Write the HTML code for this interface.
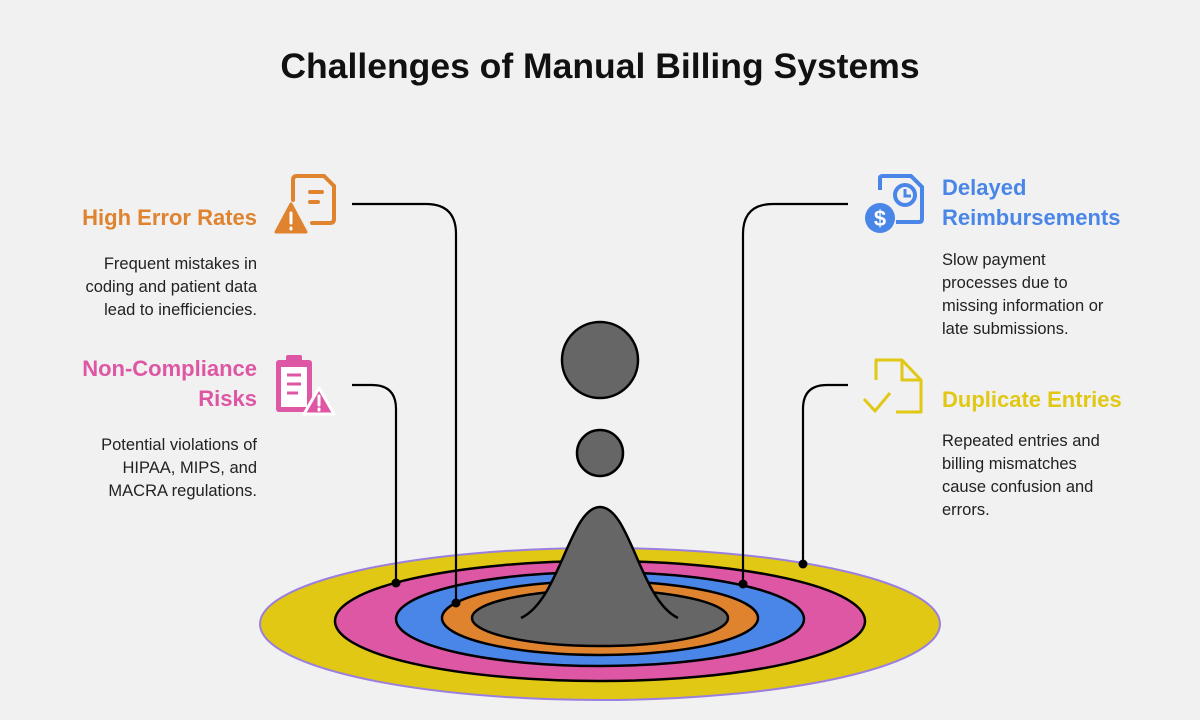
<!DOCTYPE html>
<html><head><meta charset="utf-8"><style>
body{margin:0;background:#f1f1f1;font-family:"Liberation Sans",sans-serif;}
.w{position:relative;width:1200px;height:720px;overflow:hidden}
.t{position:absolute;left:0;width:1200px;top:46px;text-align:center;font-size:35.5px;font-weight:bold;color:#111}
.h{position:absolute;font-size:22px;font-weight:bold;line-height:30px}
.p{position:absolute;font-size:16.5px;line-height:23px;color:#222}
.r{text-align:right}
</style></head><body><div class="w">
<div class="t">Challenges of Manual Billing Systems</div>
<svg width="1200" height="720" style="position:absolute;left:0;top:0">
<ellipse cx="600" cy="624" rx="340" ry="76" fill="#e0c814" stroke="#9b7fe0" stroke-width="2"/>
<ellipse cx="600" cy="621" rx="265" ry="60" fill="#de57a4" stroke="#000" stroke-width="2.5"/>
<ellipse cx="600" cy="619" rx="204" ry="47" fill="#4a86e8" stroke="#000" stroke-width="2.5"/>
<ellipse cx="600" cy="618" rx="158" ry="37" fill="#e0832f" stroke="#000" stroke-width="2.5"/>
<ellipse cx="600" cy="618" rx="128" ry="28" fill="#666" stroke="#000" stroke-width="2.5"/>
<path d="M521 618 C560 600 570 507 600 507 C630 507 640 600 678 618" fill="#666" stroke="#000" stroke-width="2.5"/>
<circle cx="600" cy="360" r="38" fill="#666" stroke="#000" stroke-width="2.5"/>
<circle cx="600" cy="453" r="23" fill="#666" stroke="#000" stroke-width="2.5"/>
<g fill="none" stroke="#000" stroke-width="2.2">
<path d="M352 204 H426 Q456 204 456 234 V603"/>
<path d="M352 385 H372 Q396 385 396 409 V583"/>
<path d="M848 204 H773 Q743 204 743 234 V584"/>
<path d="M848 385 H827 Q803 385 803 409 V564"/>
</g>
<g fill="#000"><circle cx="456" cy="603" r="4.5"/><circle cx="396" cy="583" r="4.5"/><circle cx="743" cy="584" r="4.5"/><circle cx="803" cy="564" r="4.5"/></g>
<g stroke="#e0832f" stroke-width="4" fill="none" stroke-linecap="round">
<path d="M293 200 V180 Q293 176 297 176 H324 L334 186 V219 Q334 223 330 223 H312"/>
<path d="M310 192 H322 M310 202 H318"/>
</g>
<path d="M291 204 L306 232 H276 Z" fill="#e0832f" stroke="#e0832f" stroke-width="3" stroke-linejoin="round"/>
<path d="M291 213 V223 M291 228 V229" stroke="#fff" stroke-width="3" stroke-linecap="round"/>
<rect x="276" y="360" width="36" height="52" rx="3" fill="#de57a4"/>
<rect x="286" y="355" width="16" height="8" rx="2" fill="#de57a4"/>
<rect x="281" y="367" width="26" height="40" fill="#fff"/>
<path d="M287 375 H301 M287 384 H301 M287 393 H298" stroke="#de57a4" stroke-width="3"/>
<path d="M319 388 L334 414 H304 Z" fill="#de57a4" stroke="#fff" stroke-width="3" stroke-linejoin="round"/>
<path d="M319 396 V405 M319 409 V410" stroke="#fff" stroke-width="3" stroke-linecap="round"/>
<g stroke="#4a86e8" stroke-width="4" fill="none">
<path d="M880 190 V178 Q880 176 883 176 H911 L922 187 V219 Q922 222 919 222 H896"/>
<circle cx="905" cy="195" r="10"/><path d="M905 189 V196 H911" stroke-width="3"/>
</g>
<circle cx="880" cy="218" r="15" fill="#4a86e8"/>
<text x="880" y="226" font-size="22" font-weight="bold" fill="#fff" text-anchor="middle">$</text>
<g stroke="#e0c814" stroke-width="3" fill="none" stroke-linejoin="round">
<path d="M876 380 V360 H902 L921 380 V412 H896"/><path d="M902 360 V380 H921"/>
<path d="M864 399 L875 411 L890 393"/>
</g>
</svg>
<div class="h r" style="right:943px;top:203px;color:#e0832f">High Error Rates</div>
<div class="p r" style="right:943px;top:253px">Frequent mistakes in<br>coding and patient data<br>lead to inefficiencies.</div>
<div class="h r" style="right:943px;top:354px;color:#de57a4">Non-Compliance<br>Risks</div>
<div class="p r" style="right:943px;top:434px">Potential violations of<br>HIPAA, MIPS, and<br>MACRA regulations.</div>
<div class="h" style="left:942px;top:173px;color:#4a86e8">Delayed<br>Reimbursements</div>
<div class="p" style="left:942px;top:249px">Slow payment<br>processes due to<br>missing information or<br>late submissions.</div>
<div class="h" style="left:942px;top:385px;color:#e0c814">Duplicate Entries</div>
<div class="p" style="left:942px;top:430px">Repeated entries and<br>billing mismatches<br>cause confusion and<br>errors.</div>
</div></body></html>
